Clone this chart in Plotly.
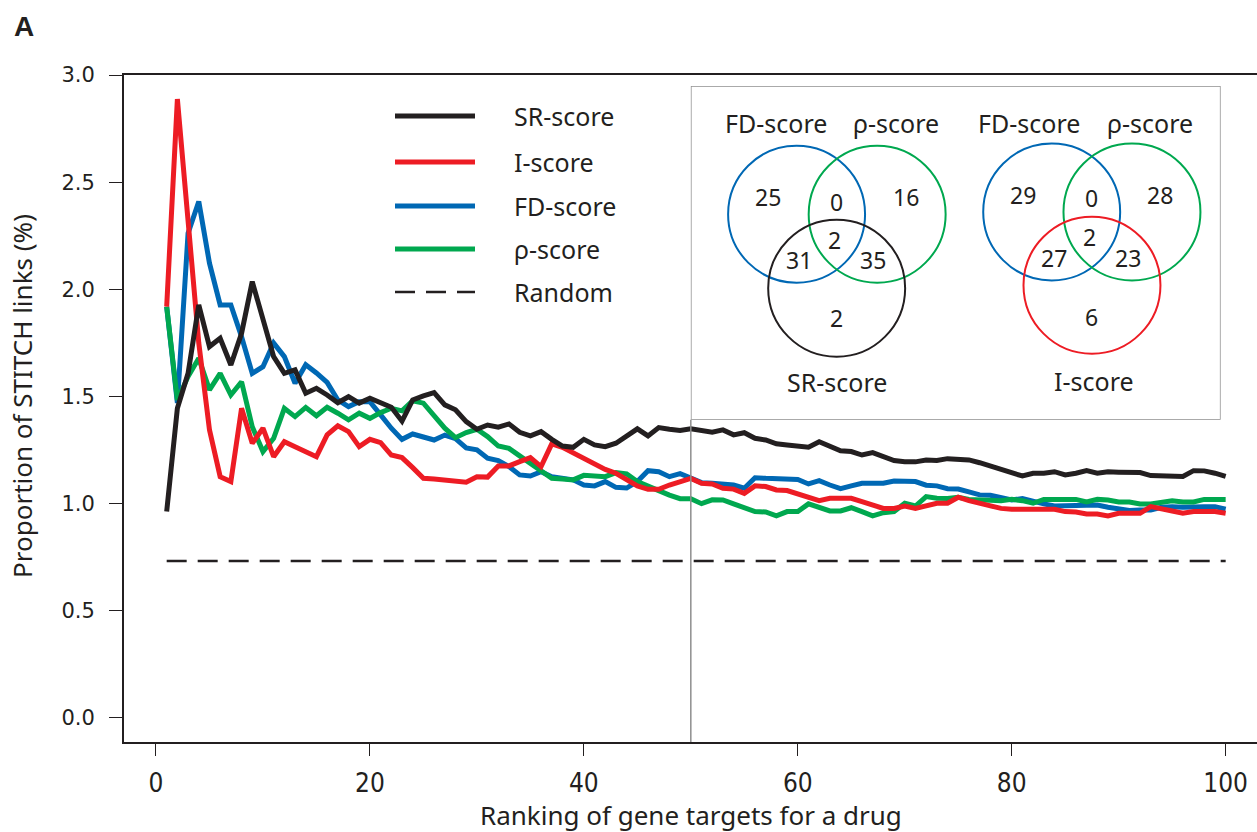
import plotly.graph_objects as go

# ---- data: proportion of STITCH links (%) by target rank ----
rank = list(range(1, 101))

sr_score = [
    0.963, 1.445, 1.608, 1.927, 1.733, 1.772, 1.647, 1.795, 2.036, 1.857,
    1.686, 1.608, 1.624, 1.515, 1.538, 1.507, 1.471, 1.499, 1.469, 1.492,
    1.471, 1.450, 1.385, 1.484, 1.503, 1.518, 1.461, 1.438, 1.383, 1.347,
    1.367, 1.357, 1.372, 1.333, 1.316, 1.336, 1.300, 1.269, 1.263, 1.300,
    1.274, 1.266, 1.282, 1.316, 1.349, 1.316, 1.355, 1.347, 1.341, 1.349,
    1.341, 1.333, 1.344, 1.321, 1.331, 1.305, 1.297, 1.279, 1.274, 1.269,
    1.263, 1.289, 1.266, 1.247, 1.243, 1.227, 1.238, 1.219, 1.201, 1.196,
    1.195, 1.204, 1.201, 1.210, 1.208, 1.204, 1.191, 1.176, 1.160, 1.145,
    1.129, 1.142, 1.142, 1.149, 1.134, 1.142, 1.154, 1.142, 1.149, 1.147,
    1.145, 1.145, 1.131, 1.129, 1.128, 1.127, 1.154, 1.153, 1.142, 1.127,
]

i_score = [
    1.919, 2.888, 2.320, 1.750, 1.344, 1.126, 1.103, 1.445, 1.282, 1.352,
    1.219, 1.289, 1.266, 1.243, 1.219, 1.321, 1.363, 1.336, 1.266, 1.300,
    1.285, 1.227, 1.215, 1.168, 1.118, 1.115, 1.110, 1.105, 1.100, 1.126,
    1.124, 1.176, 1.176, 1.196, 1.215, 1.173, 1.279, 1.263, 1.238, 1.212,
    1.185, 1.160, 1.142, 1.111, 1.083, 1.067, 1.067, 1.087, 1.105, 1.118,
    1.095, 1.092, 1.072, 1.068, 1.048, 1.083, 1.080, 1.064, 1.061, 1.045,
    1.030, 1.014, 1.025, 1.025, 1.025, 1.009, 0.994, 0.978, 0.978, 0.989,
    0.978, 0.989, 1.002, 1.002, 1.030, 1.014, 1.002, 0.989, 0.978, 0.974,
    0.974, 0.974, 0.974, 0.974, 0.963, 0.961, 0.952, 0.952, 0.943, 0.955,
    0.955, 0.955, 0.986, 0.978, 0.966, 0.955, 0.963, 0.963, 0.963, 0.955,
]

fd_score = [
    1.919, 1.470, 2.262, 2.410, 2.122, 1.927, 1.927, 1.779, 1.608, 1.639,
    1.749, 1.686, 1.562, 1.648, 1.610, 1.566, 1.484, 1.453, 1.476, 1.476,
    1.414, 1.352, 1.300, 1.325, 1.311, 1.297, 1.320, 1.303, 1.260, 1.251,
    1.212, 1.201, 1.173, 1.134, 1.129, 1.149, 1.126, 1.118, 1.111, 1.087,
    1.083, 1.103, 1.076, 1.073, 1.103, 1.154, 1.149, 1.126, 1.140, 1.120,
    1.098, 1.095, 1.092, 1.087, 1.072, 1.121, 1.118, 1.116, 1.115, 1.113,
    1.092, 1.107, 1.087, 1.070, 1.083, 1.095, 1.095, 1.095, 1.106, 1.106,
    1.103, 1.086, 1.083, 1.070, 1.068, 1.055, 1.041, 1.039, 1.025, 1.017,
    1.024, 1.009, 0.999, 0.989, 0.989, 0.989, 0.994, 0.994, 0.983, 0.974,
    0.968, 0.971, 0.971, 0.983, 0.986, 0.983, 0.986, 0.986, 0.986, 0.974,
]

rho_score = [
    1.919, 1.484, 1.593, 1.678, 1.531, 1.608, 1.507, 1.569, 1.359, 1.243,
    1.305, 1.445, 1.406, 1.449, 1.410, 1.450, 1.422, 1.391, 1.422, 1.398,
    1.425, 1.445, 1.433, 1.480, 1.469, 1.410, 1.352, 1.308, 1.332, 1.347,
    1.313, 1.269, 1.258, 1.223, 1.188, 1.149, 1.118, 1.115, 1.111, 1.132,
    1.129, 1.126, 1.145, 1.139, 1.103, 1.079, 1.061, 1.040, 1.023, 1.023,
    1.000, 1.018, 1.017, 0.999, 0.981, 0.963, 0.961, 0.943, 0.963, 0.963,
    0.999, 0.983, 0.966, 0.966, 0.981, 0.963, 0.943, 0.958, 0.963, 1.002,
    0.989, 1.033, 1.025, 1.024, 1.030, 1.020, 1.017, 1.013, 1.014, 1.020,
    1.014, 1.002, 1.020, 1.020, 1.020, 1.020, 1.008, 1.020, 1.017, 1.008,
    1.008, 0.999, 0.999, 1.005, 1.014, 1.008, 1.008, 1.020, 1.020, 1.020,
]

random_level = 0.733
random_span = [1, 100]

x_ticks = [0, 20, 40, 60, 80, 100]
y_ticks = [0.0, 0.5, 1.0, 1.5, 2.0, 2.5, 3.0]

# Venn diagram region counts
venn_sr = {"fd": 25, "fd_rho": 0, "rho": 16, "all": 2, "fd_sr": 31, "rho_sr": 35, "sr": 2}
venn_i = {"fd": 29, "fd_rho": 0, "rho": 28, "all": 2, "fd_i": 27, "rho_i": 23, "i": 6}

# ---- styling ----
BLACK = "#231F20"
RED = "#ED1C24"
BLUE = "#0068B4"
GREEN = "#00A84F"
GRAY = "#8E8E8E"
TXT = "#231F20"
FONT = "Noto Sans, Open Sans, sans-serif"

W, H = 1257, 832
ML, MR, MT, MB = 124, 0, 75, 90
PW, PH = W - ML - MR, H - MT - MB

X_RANGE = [-2.99, 102.93]
Y_RANGE = [-0.112, 3.0]


def paper_x(px):
    return (px - ML) / PW


def paper_y(py):
    return (H - MB - py) / PH


def data_to_paper_x(v):
    return (v - X_RANGE[0]) / (X_RANGE[1] - X_RANGE[0])


def data_to_paper_y(v):
    return (v - Y_RANGE[0]) / (Y_RANGE[1] - Y_RANGE[0])


fig = go.Figure()

# baseline of random expectation
fig.add_trace(go.Scatter(
    x=random_span, y=[random_level] * len(random_span), mode="lines",
    line=dict(color=BLACK, width=2.5, dash="20px,11px"),
    hoverinfo="skip", showlegend=False))

series = [
    ("FD-score", fd_score, BLUE),
    ("ρ-score", rho_score, GREEN),
    ("I-score", i_score, RED),
    ("SR-score", sr_score, BLACK),
]
for name, vals, col in series:
    fig.add_trace(go.Scatter(
        x=rank, y=vals, mode="lines", name=name,
        line=dict(color=col, width=5), showlegend=False))

# ---- inset frame (Venn diagrams) ----
inset_left, inset_right = 50, 99.53
inset_bottom, inset_top = 1.391, 2.949
IW, IH = 530, 334  # inset units ~ pixels

fig.add_trace(go.Scatter(x=[], y=[], xaxis="x2", yaxis="y2",
                         showlegend=False, hoverinfo="skip"))

shapes = []
annotations = []

# vertical divider from the inset frame down to the x axis
shapes.append(dict(type="line", xref="x", yref="y", x0=inset_left, x1=inset_left,
                   y0=Y_RANGE[0], y1=inset_bottom, line=dict(color=GRAY, width=1.5)))
shapes.append(dict(type="rect", xref="x2", yref="y2", x0=0, x1=IW, y0=0, y1=IH,
                   line=dict(color=GRAY, width=1.5), fillcolor="rgba(0,0,0,0)"))

R = 68.5
circles = [
    (105.8, 128.3, BLUE), (186.4, 128.3, GREEN), (145.9, 202.3, BLACK),
    (361.0, 126.0, BLUE), (441.3, 126.0, GREEN), (401.3, 199.3, RED),
]
for cx, cy, col in circles:
    shapes.append(dict(type="circle", xref="x2", yref="y2",
                       x0=cx - R, x1=cx + R, y0=cy - R, y1=cy + R,
                       line=dict(color=col, width=2), fillcolor="rgba(0,0,0,0)"))

venn_labels = [
    ("FD-score", 85.5, 37.3), ("ρ-score", 204.8, 37.3), ("SR-score", 145.8, 295.7),
    ("FD-score", 338.6, 37.3), ("ρ-score", 459.6, 37.3), ("I-score", 403.0, 295.0),
]
for txt, x, y in venn_labels:
    annotations.append(dict(text=txt, xref="x2", yref="y2", x=x, y=y,
                            showarrow=False, xanchor="center", yanchor="middle",
                            font=dict(family=FONT, size=25, color=TXT)))

venn_numbers = [
    (venn_sr["fd"], 77.6, 110.7), (venn_sr["fd_rho"], 145.8, 115.7),
    (venn_sr["rho"], 214.8, 110.7), (venn_sr["all"], 144.1, 154.0),
    (venn_sr["fd_sr"], 107.9, 174.0), (venn_sr["rho_sr"], 182.0, 174.0),
    (venn_sr["sr"], 145.8, 232.3),
    (venn_i["fd"], 332.7, 109.0), (venn_i["fd_rho"], 401.0, 112.3),
    (venn_i["rho"], 469.0, 109.0), (venn_i["all"], 399.3, 151.3),
    (venn_i["fd_i"], 363.8, 172.3), (venn_i["rho_i"], 437.2, 172.3),
    (venn_i["i"], 401.0, 230.7),
]
for n, x, y in venn_numbers:
    annotations.append(dict(text=str(n), xref="x2", yref="y2", x=x, y=y,
                            showarrow=False, xanchor="center", yanchor="middle",
                            font=dict(family=FONT, size=23, color=TXT)))

# ---- legend ----
legend_items = [
    ("SR-score", BLACK, "solid", 5, 116),
    ("I-score", RED, "solid", 5, 162),
    ("FD-score", BLUE, "solid", 5, 206),
    ("ρ-score", GREEN, "solid", 5, 249),
    ("Random", BLACK, "20px,11px", 2.5, 292),
]
for name, col, dash, lw, py in legend_items:
    shapes.append(dict(type="line", xref="paper", yref="paper",
                       x0=paper_x(395), x1=paper_x(475), y0=paper_y(py), y1=paper_y(py),
                       line=dict(color=col, width=lw, dash=dash)))
    annotations.append(dict(text=name, xref="paper", yref="paper",
                            x=paper_x(512), y=paper_y(py), showarrow=False,
                            xanchor="left", yanchor="middle",
                            font=dict(family=FONT, size=25, color=TXT)))

# panel letter and axis titles
annotations.append(dict(text="<b>A</b>", xref="paper", yref="paper",
                        x=paper_x(23.5), y=paper_y(26.5), showarrow=False,
                        xanchor="center", yanchor="middle",
                        font=dict(family="Liberation Sans, Arial, sans-serif", size=28, color=TXT)))
annotations.append(dict(text="Proportion of STITCH links (%)", xref="paper", yref="paper",
                        x=paper_x(22), y=paper_y(396), showarrow=False, textangle=-90,
                        xanchor="center", yanchor="middle",
                        font=dict(family=FONT, size=26, color=TXT)))
annotations.append(dict(text="Ranking of gene targets for a drug", xref="paper", yref="paper",
                        x=0.5, y=paper_y(815), showarrow=False,
                        xanchor="center", yanchor="middle",
                        font=dict(family=FONT, size=26, color=TXT)))

fig.update_layout(
    width=W, height=H,
    margin=dict(l=ML, r=MR, t=MT, b=MB),
    paper_bgcolor="white", plot_bgcolor="white",
    showlegend=False,
    shapes=shapes, annotations=annotations,
    xaxis=dict(
        range=X_RANGE, tickvals=x_ticks, ticks="outside", ticklen=12, tickwidth=1.3,
        tickcolor=BLACK, showline=True, linecolor=BLACK, linewidth=1.8, mirror=True,
        showgrid=False, zeroline=False, automargin=False, ticklabelstandoff=5,
        tickfont=dict(family="Liberation Sans Narrow, DejaVu Sans Condensed, sans-serif",
                      size=26, color=TXT),
    ),
    yaxis=dict(
        range=Y_RANGE, tickvals=y_ticks, tickformat=".1f", ticks="outside", ticklen=13,
        tickwidth=1.3, tickcolor=BLACK, showline=True, linecolor=BLACK, linewidth=1.8,
        mirror=False, showgrid=False, zeroline=False, automargin=False,
        ticklabelstandoff=10,
        tickfont=dict(family="DejaVu Sans, sans-serif", size=21, color=TXT),
    ),
    xaxis2=dict(domain=[data_to_paper_x(inset_left), data_to_paper_x(inset_right)],
                range=[0, IW], anchor="y2", visible=False, fixedrange=True),
    yaxis2=dict(domain=[data_to_paper_y(inset_bottom), data_to_paper_y(inset_top)],
                range=[IH, 0], anchor="x2", visible=False, fixedrange=True),
)

fig.write_html("out.html")
